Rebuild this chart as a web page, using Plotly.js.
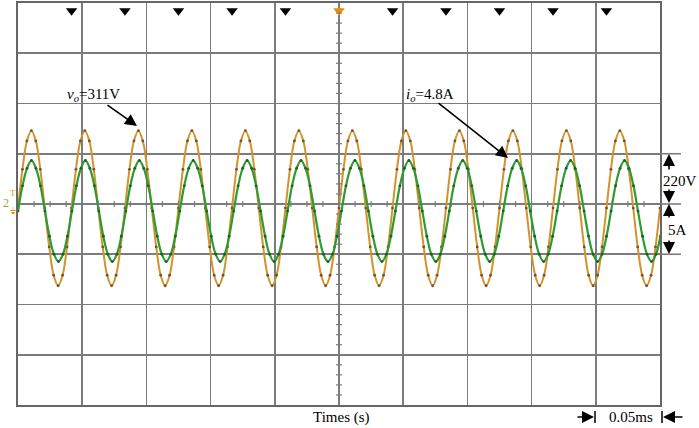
<!DOCTYPE html>
<html>
<head>
<meta charset="utf-8">
<script src="https://cdn.plot.ly/plotly-3.0.1.min.js"></script>
<style>html,body{margin:0;padding:0;background:#fff;}#chart{width:699px;height:428px;}</style>
</head>
<body>
<div id="chart"></div>
<script>
// ---- data ----
// channel 1: output voltage v_o (V), sampled every dtV ms from t = 0
const dtV = 0.0034722;
const voltage = [
 -18,152,276,321,276,152,-18,-188,-312,-358,-312,-188,
 -18,152,276,321,276,152,-18,-188,-312,-358,-312,-188,
 -18,152,276,321,276,152,-18,-188,-312,-358,-312,-188,
 -18,152,276,321,276,152,-18,-188,-312,-358,-312,-188,
 -18,152,276,321,276,152,-18,-188,-312,-358,-312,-188,
 -18,152,276,321,276,152,-18,-188,-312,-358,-312,-188,
 -18,152,276,321,276,152,-18,-188,-312,-358,-312,-188,
 -18,152,276,321,276,152,-18,-188,-312,-358,-312,-188,
 -18,152,276,321,276,152,-18,-188,-312,-358,-312,-188,
 -18,152,276,321,276,152,-18,-188,-312,-358,-312,-188,
 -18,152,276,321,276,152,-18,-188,-312,-358,-312,-188,
 -18,152,276,321,276,152,-18,-188,-312,-358,-312,-188,
 -18
];
// channel 2: output current i_o (A), sampled every dtI ms from t = 0
const dtI = 0.0034990;
const current = [
 -0.70,1.81,3.55,4.33,3.55,1.81,-0.70,-3.21,-5.00,-5.73,-5.00,-3.21,
 -0.70,1.81,3.55,4.33,3.55,1.81,-0.70,-3.21,-5.00,-5.73,-5.00,-3.21,
 -0.70,1.81,3.55,4.33,3.55,1.81,-0.70,-3.21,-5.00,-5.73,-5.00,-3.21,
 -0.70,1.81,3.55,4.33,3.55,1.81,-0.70,-3.21,-5.00,-5.73,-5.00,-3.21,
 -0.70,1.81,3.55,4.33,3.55,1.81,-0.70,-3.21,-5.00,-5.73,-5.00,-3.21,
 -0.70,1.81,3.55,4.33,3.55,1.81,-0.70,-3.21,-5.00,-5.73,-5.00,-3.21,
 -0.70,1.81,3.55,4.33,3.55,1.81,-0.70,-3.21,-5.00,-5.73,-5.00,-3.21,
 -0.70,1.81,3.55,4.33,3.55,1.81,-0.70,-3.21,-5.00,-5.73,-5.00,-3.21,
 -0.70,1.81,3.55,4.33,3.55,1.81,-0.70,-3.21,-5.00,-5.73,-5.00,-3.21,
 -0.70,1.81,3.55,4.33,3.55,1.81,-0.70,-3.21,-5.00,-5.73,-5.00,-3.21,
 -0.70,1.81,3.55,4.33,3.55,1.81,-0.70,-3.21,-5.00,-5.73,-5.00,-3.21,
 -0.70,1.81,3.55,4.33,3.55,1.81,-0.70,-3.21,-5.00,-5.73,-5.00,-3.21,
 -0.70
];
// trigger markers along the top (ms); the orange one is the trigger point
const triggerTimes = [0.0417,0.0833,0.1250,0.1667,0.2083,0.2500,0.2917,0.3333,0.3750,0.4167,0.4583];
const triggerColors = ['#000','#000','#000','#000','#000','#F08A00','#000','#000','#000','#000','#000'];
// scales
const voltsPerDiv = 220, ampsPerDiv = 5, msPerDiv = 0.05;
const labelV = '<i>v<sub>o</sub></i>=311V';
const labelI = '<i>i<sub>o</sub></i>=4.8A';

// ---- plotting ----
const tV = voltage.map((_, i) => i * dtV);
const tI = current.map((_, i) => i * dtI);

const W = 699, H = 428, mL = 18, mR = 39, mT = 3, mB = 23;
const pw = W - mL - mR, ph = H - mT - mB;
const PX = x => (x - mL) / pw;          // pixel -> paper x
const PY = y => (H - mB - y) / ph;      // pixel -> paper y

const SERIF = 'Liberation Serif, Times New Roman, serif';
const GRID = '#7c7c7c';

const traces = [
  {x: tV, y: voltage, yaxis: 'y', type: 'scatter', mode: 'lines+markers',
   line: {color: '#D3922C', width: 2, shape: 'spline', smoothing: 1},
   marker: {size: 2.8, color: '#6b5535'}, hoverinfo: 'skip'},
  {x: tI, y: current, yaxis: 'y2', type: 'scatter', mode: 'lines+markers',
   line: {color: '#2E9B32', width: 2.2, shape: 'spline', smoothing: 1},
   marker: {size: 2.8, color: '#215e24'}, hoverinfo: 'skip'},
  {x: triggerTimes, y: triggerTimes.map(() => 4 * voltsPerDiv - 34), yaxis: 'y',
   type: 'scatter', mode: 'markers', cliponaxis: false,
   marker: {symbol: 'triangle-down', size: 10, color: triggerColors}, hoverinfo: 'skip'},
  {x: [-0.0028], y: [0], yaxis: 'y', type: 'scatter', mode: 'markers', cliponaxis: false,
   marker: {symbol: 'triangle-right', size: 8, color: '#F08A00'}, hoverinfo: 'skip'}
];

const shapes = [];
// graticule minor ticks on the centre lines
for (let k = 1; k < 40; k++) {
  const t = k * msPerDiv / 4;
  shapes.push({type: 'line', xref: 'x', yref: 'paper', x0: t, x1: t,
    y0: 0.5 - 3 / ph, y1: 0.5 + 3 / ph, line: {color: GRID, width: 1.2}});
}
for (let k = -19; k < 20; k++) {
  const v = k * voltsPerDiv / 5;
  shapes.push({type: 'line', xref: 'paper', yref: 'y', x0: 0.5 - 3 / pw, x1: 0.5 + 3 / pw,
    y0: v, y1: v, line: {color: GRID, width: 1.2}});
}
// grid line extensions on the right (scale bracket)
[voltsPerDiv, 0, -voltsPerDiv].forEach(v => shapes.push({type: 'line', xref: 'paper', yref: 'y',
  x0: 1, x1: PX(681), y0: v, y1: v, line: {color: GRID, width: 1.6}}));
// bars for 0.05ms marker
[595, 662].forEach(x => shapes.push({type: 'line', xref: 'paper', yref: 'paper',
  x0: PX(x), x1: PX(x), y0: PY(411), y1: PY(423), line: {color: '#000', width: 1.5}}));

function arrow(hx, hy, tx, ty) {
  return {xref: 'paper', yref: 'paper', x: PX(hx), y: PY(hy), ax: tx - hx, ay: ty - hy,
    text: '', showarrow: true, arrowhead: 2, arrowsize: 1.5, arrowwidth: 1.6,
    arrowcolor: '#000', standoff: 0, startstandoff: 0};
}
function label(x, y, text, size, color) {
  return {xref: 'paper', yref: 'paper', x: PX(x), y: PY(y), text: text, showarrow: false,
    xanchor: 'center', yanchor: 'middle', font: {family: SERIF, size: size || 15, color: color || '#000'}};
}

const annotations = [
  label(93, 95, labelV),
  arrow(137, 126, 106, 104),
  label(430, 95, labelI),
  arrow(508, 158, 437, 102),
  label(680, 181, '220V'),
  label(678, 230, '5A'),
  arrow(669, 154, 669, 171),
  arrow(669, 203, 669, 188),
  arrow(669, 204, 669, 219),
  arrow(669, 254, 669, 239),
  label(342, 417, 'Times (s)'),
  label(631, 417, '0.05ms'),
  arrow(594, 417, 576, 417),
  arrow(663, 417, 684, 417),
  label(6, 203, '2', 12, '#8aa63a'),
  label(13, 193, 'T', 9, '#F08A00'),
  label(13, 211, '⏚', 9, '#F08A00')
];

const axisCommon = {showgrid: true, gridcolor: GRID, gridwidth: 1.6, zeroline: false,
  showticklabels: false, ticks: '', showline: true, mirror: true, linecolor: '#666',
  linewidth: 2, fixedrange: true};

const layout = {
  width: W, height: H,
  margin: {l: mL, r: mR, t: mT, b: mB, pad: 0},
  paper_bgcolor: '#fff', plot_bgcolor: '#fff',
  showlegend: false,
  xaxis: Object.assign({}, axisCommon, {range: [0, 10 * msPerDiv], dtick: msPerDiv, tick0: 0}),
  yaxis: Object.assign({}, axisCommon, {range: [-4 * voltsPerDiv, 4 * voltsPerDiv], dtick: voltsPerDiv, tick0: 0}),
  yaxis2: {overlaying: 'y', range: [-4 * ampsPerDiv, 4 * ampsPerDiv], visible: false, fixedrange: true},
  shapes: shapes,
  annotations: annotations
};

Plotly.newPlot('chart', traces, layout, {staticPlot: true, displayModeBar: false});
</script>
</body>
</html>
